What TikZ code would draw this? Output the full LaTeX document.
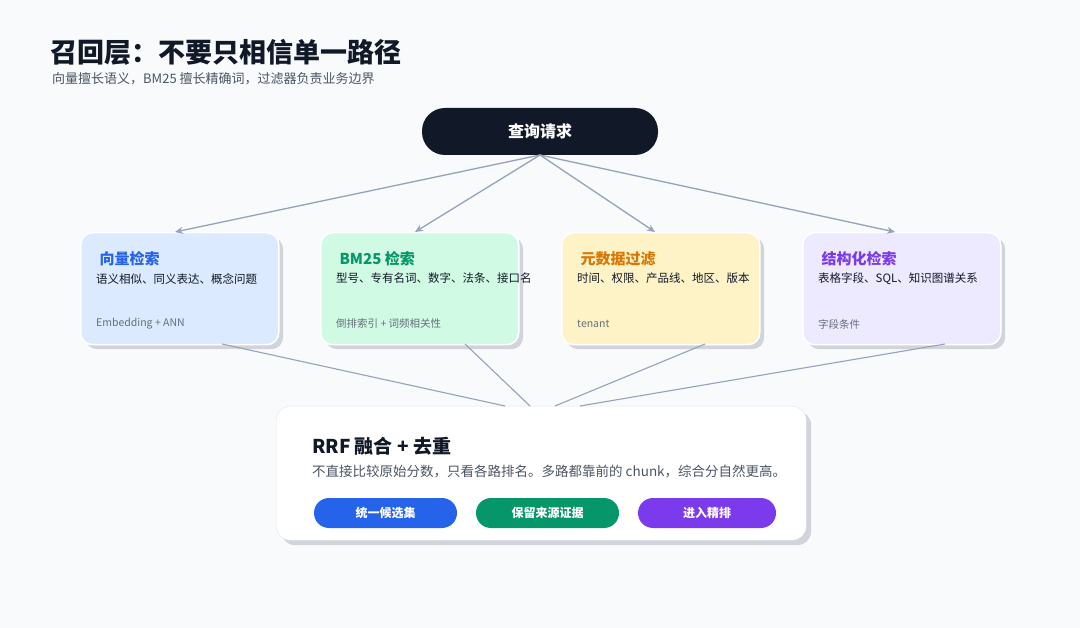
\documentclass[tikz,border=0pt]{standalone}
\usepackage{fontspec}
\setmainfont{Noto Sans CJK SC}
\usetikzlibrary{arrows.meta}
\definecolor{bg}{HTML}{F8FAFC}
\definecolor{ln}{HTML}{94A3B8}
\definecolor{dark}{HTML}{111827}
\definecolor{sub}{HTML}{4B5563}
\definecolor{shd}{HTML}{D1D5DB}
\definecolor{fA}{HTML}{DBEAFE}\definecolor{tA}{HTML}{2563EB}
\definecolor{fB}{HTML}{D1FAE5}\definecolor{tB}{HTML}{059669}
\definecolor{fC}{HTML}{FEF3C7}\definecolor{tC}{HTML}{D97706}
\definecolor{fD}{HTML}{EDE9FE}\definecolor{tD}{HTML}{7C3AED}
\begin{document}
\begin{tikzpicture}[x=1pt,y=-1pt,
 card/.style={draw=white,line width=1.5pt,rounded corners=12pt,minimum width=198pt,minimum height=112pt,anchor=north west,inner sep=0pt},
 shadow/.style={fill=shd,rounded corners=12pt,minimum width=198pt,minimum height=112pt,anchor=north west,inner sep=0pt},
 ctitle/.style={anchor=west,font=\fontsize{15}{18}\selectfont\bfseries},
 cbody/.style={anchor=north west,text width=160pt,align=left,inner sep=0pt,font=\fontsize{11.5}{16}\selectfont,text=dark},
 cfoot/.style={anchor=west,inner sep=0pt,font=\fontsize{10.5}{12}\selectfont,text=sub!85},
 arr/.style={draw=ln,line width=1.3pt,-{Stealth[length=8pt,width=7pt]}},
 con/.style={draw=ln,line width=1.1pt},
 btn/.style={rounded corners=15pt,minimum height=30pt,text=white,font=\fontsize{12}{14}\selectfont\bfseries,inner sep=0pt}]
\fill[bg] (0,0) rectangle (1080,628);
\useasboundingbox (0,0) rectangle (1080,628);
\node[anchor=west,inner sep=0pt,font=\fontsize{27}{32}\selectfont\bfseries,text=dark] (title) at (50,52) {召回层：不要只相信单一路径};
\node[anchor=west,inner sep=0pt,font=\fontsize{13}{16}\selectfont,text=sub] (subt) at (52,79) {向量擅长语义，BM25 擅长精确词，过滤器负责业务边界};
\node[fill=dark,rounded corners=23pt,minimum width=236pt,minimum height=47pt,text=white,font=\fontsize{16}{19}\selectfont\bfseries] (q) at (540,131.5) {查询请求};
% cards
\foreach \n/\x/\f/\t/\tt/\b/\ff in {
 a/80/fA/tA/向量检索/语义相似、同义表达、概念问题/Embedding + ANN / HNSW,
 b/320/fB/tB/BM25 检索/型号、专有名词、数字、法条、接口名/倒排索引 + 词频相关性,
 c/561/fC/tC/元数据过滤/时间、权限、产品线、地区、版本/tenant / category / year,
 d/802/fD/tD/结构化检索/表格字段、SQL、知识图谱关系/字段条件 / 图关系}{
 \node[shadow] at (\x+5,237) {};
 \node[card,fill=\f] (\n) at (\x,232) {};
 \node[ctitle,text=\t] (\n t) at (\x+16,259) {\tt};
 \node[cbody] (\n b) at (\x+16,273) {\b};
 \node[cfoot] (\n f) at (\x+16,324) {\ff};
}
\coordinate (ea) at (175,232);\coordinate (eb) at (415,232);
\coordinate (ec) at (655,232);\coordinate (ed) at (895,232);
\coordinate (qs) at (540,155);
\foreach \e in {ea,eb,ec,ed}{\draw[arr] (qs) -- (\e);}
% RRF box
\node[fill=shd,rounded corners=14pt,minimum width=530pt,minimum height=134pt,anchor=north west] at (281,411) {};
\node[fill=white,draw=shd!60,rounded corners=14pt,minimum width=530pt,minimum height=134pt,anchor=north west] (r) at (276,406) {};
\coordinate (ba) at (222,344);\coordinate (bb) at (465,344);\coordinate (bc) at (705,344);\coordinate (bd) at (945,344);
\coordinate (ra) at (505,406);\coordinate (rb) at (530,406);\coordinate (rc) at (555,406);\coordinate (rd) at (580,406);
\draw[con] (ba)--(ra); \draw[con] (bb)--(rb); \draw[con] (bc)--(rc); \draw[con] (bd)--(rd);
\node[anchor=west,inner sep=0pt,font=\fontsize{19}{22}\selectfont\bfseries,text=dark] (rt) at (312,446) {RRF 融合 + 去重};
\node[anchor=west,inner sep=0pt,font=\fontsize{13.5}{16}\selectfont,text=sub] (rs) at (312,471) {不直接比较原始分数，只看各路排名。多路都靠前的 chunk，综合分自然更高。};
\node[btn,fill=tA,minimum width=143pt] (b1) at (385.5,513) {统一候选集};
\node[btn,fill=tB,minimum width=143pt] (b2) at (547.5,513) {保留来源证据};
\node[btn,fill=tD,minimum width=138pt] (b3) at (707,513) {进入精排};
\end{tikzpicture}
\end{document}
